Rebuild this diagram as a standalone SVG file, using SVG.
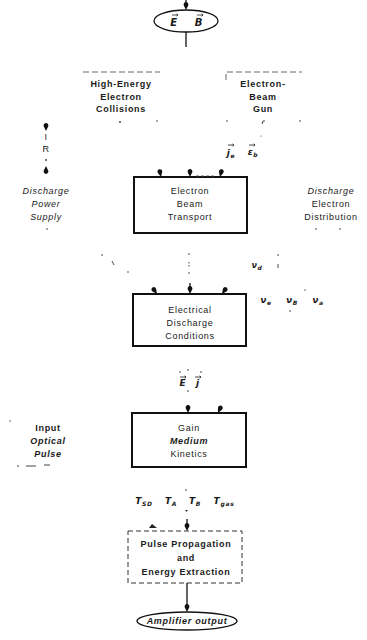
<svg xmlns="http://www.w3.org/2000/svg" width="367" height="640" viewBox="0 0 367 640">
<style>
text{font-family:"Liberation Sans","DejaVu Sans",sans-serif;font-size:9px;fill:#1a1a1a;text-anchor:middle;font-weight:bold;letter-spacing:0.7px}
.it{font-style:italic}
.nb{font-weight:normal}
.sym{font-family:"DejaVu Sans",sans-serif;font-size:9px;font-style:italic}
.sub{font-size:6px}
.box{fill:none;stroke:#111;stroke-width:2}
.dbox{fill:none;stroke:#333;stroke-width:1;stroke-dasharray:5 3}
.faint{fill:none;stroke:#555;stroke-width:0.9;stroke-dasharray:6 3}
.ln{fill:none;stroke:#111;stroke-width:1.3}
.dot{fill:#333}
.vec{fill:none;stroke:#1a1a1a;stroke-width:0.8}
</style>
<defs>
<path id="pin" d="M0,0 L-2.2,-4.6 A2.4,2.4 0 1 1 2.2,-4.6 Z" fill="#111"/>
<path id="vec" d="M-3,0 H3 M1.6,-1.2 L3,0 L1.6,1.2" fill="none" stroke="#1a1a1a" stroke-width="0.8"/>
</defs>
<rect width="367" height="640" fill="#fff"/>

<g id="fields">
<ellipse cx="186" cy="21" rx="32" ry="11" fill="none" stroke="#111" stroke-width="1.3"/>
<text class="sym" x="174" y="26" style="font-size:10px;font-weight:bold">E</text>
<use href="#vec" x="175" y="15"/>
<text class="sym" x="199" y="26" style="font-size:10px;font-weight:bold">B</text>
<use href="#vec" x="200" y="15"/>
</g>

<g id="high-energy-collisions">
<path class="faint" d="M83,72 H160"/>
<text x="121" y="87">High-Energy</text>
<text x="121" y="100">Electron</text>
<text x="121" y="112">Collisions</text>
<circle class="dot" cx="120" cy="122" r="0.9"/>
<circle class="dot" cx="157" cy="121" r="0.8"/>
</g>

<g id="electron-beam-gun">
<path class="faint" d="M226,80 V72 H302"/>
<text x="263" y="87">Electron-</text>
<text x="263" y="100">Beam</text>
<text x="263" y="112">Gun</text>
<circle class="dot" cx="227" cy="121" r="0.8"/>
<path d="M262,124 l1,-3 h2" stroke="#333" stroke-width="0.9" fill="none"/>
<circle class="dot" cx="300" cy="121" r="0.8"/>
<circle class="dot" cx="261" cy="136" r="0.6"/>
</g>

<g id="discharge-power-supply">
<text x="46" y="140" class="nb">I</text>
<text x="46" y="152" class="nb">R</text>
<text x="46" y="194" class="it nb">Discharge</text>
<text x="46" y="207" class="it nb">Power</text>
<text x="46" y="220" class="it nb">Supply</text>
<circle class="dot" cx="47" cy="229" r="0.8"/>
</g>

<g id="beam-params">
<text class="sym" x="231" y="156">j<tspan class="sub" dy="2">e</tspan></text>
<use href="#vec" x="231" y="145"/>
<text class="sym" x="253" y="155">ε<tspan class="sub" dy="2">b</tspan></text>
<use href="#vec" x="252" y="145"/>
</g>

<g id="electron-beam-transport">
<rect class="box" x="134" y="177" width="113" height="56" stroke-width="2.2"/>
<text x="190" y="194" class="nb">Electron</text>
<text x="190" y="207" class="nb">Beam</text>
<text x="190" y="220" class="nb">Transport</text>
</g>

<g id="discharge-electron-distribution">
<text x="331" y="194" class="it nb">Discharge</text>
<text x="331" y="207" class="nb">Electron</text>
<text x="331" y="220" class="nb">Distribution</text>
<circle class="dot" cx="316" cy="229" r="0.8"/>
<circle class="dot" cx="340" cy="229" r="0.8"/>
</g>

<g id="marks-mid">
<circle class="dot" cx="102" cy="255" r="0.8"/>
<path d="M112,261 l2,4" stroke="#333" stroke-width="0.9"/>
<circle class="dot" cx="128" cy="272" r="0.8"/>
<circle class="dot" cx="189" cy="254" r="0.8"/>
<path d="M189,262 v5" stroke="#333" stroke-width="0.9" stroke-dasharray="1.5 1.5"/>
<circle class="dot" cx="189" cy="273" r="0.8"/>
<text class="sym" x="257" y="268" style="font-size:8px">ν<tspan class="sub" dy="2">d</tspan></text>
<circle class="dot" cx="278" cy="255" r="0.8"/>
<path d="M278,264 v4" stroke="#333" stroke-width="0.9"/>
</g>

<g id="electrical-discharge-conditions">
<rect class="box" x="133" y="294" width="113" height="52"/>
<text x="190" y="313" class="nb">Electrical</text>
<text x="190" y="326" class="nb">Discharge</text>
<text x="190" y="339" class="nb">Conditions</text>
</g>

<g id="rates">
<text class="sym" x="266" y="303">ν<tspan class="sub" dy="2">e</tspan></text>
<text class="sym" x="292" y="303">ν<tspan class="sub" dy="2">B</tspan></text>
<text class="sym" x="318" y="303">ν<tspan class="sub" dy="2">a</tspan></text>
<circle class="dot" cx="290" cy="311" r="0.8"/>
<circle class="dot" cx="305" cy="290" r="0.7"/>
</g>

<g id="field-current">
<text class="sym" x="183" y="386">E</text>
<use href="#vec" x="183" y="377"/>
<text class="sym" x="198" y="386">j</text>
<use href="#vec" x="198" y="377"/>
<circle class="dot" cx="180" cy="372" r="0.8"/>
<circle class="dot" cx="188" cy="370" r="0.8"/>
<circle class="dot" cx="201" cy="372" r="0.8"/>
<circle class="dot" cx="188" cy="391" r="0.8"/>
</g>

<g id="gain-medium-kinetics">
<rect class="box" x="132" y="413" width="114" height="54" stroke-width="1.8"/>
<text x="189" y="431" class="nb">Gain</text>
<text x="189" y="444" class="it">Medium</text>
<text x="189" y="457" class="nb">Kinetics</text>
</g>

<g id="input-optical-pulse">
<text x="48" y="431">Input</text>
<text x="48" y="444" class="it">Optical</text>
<text x="48" y="457" class="it">Pulse</text>
<circle class="dot" cx="10" cy="421" r="0.7"/>
<path d="M17,466 h2 M26,466 h10 M44,465 h6" stroke="#444" stroke-width="1"/>
</g>

<g id="temperatures">
<text class="sym" x="144" y="504">T<tspan class="sub" dy="2">SD</tspan></text>
<text class="sym" x="171" y="504">T<tspan class="sub" dy="2">A</tspan></text>
<text class="sym" x="195" y="504">T<tspan class="sub" dy="2">B</tspan></text>
<text class="sym" x="224" y="504">T<tspan class="sub" dy="2">gas</tspan></text>
<circle class="dot" cx="186" cy="490" r="0.8"/>
<path d="M185,510 h3 l-1.5,2 z" fill="#333"/>
</g>

<g id="pulse-propagation">
<rect class="dbox" x="128" y="531" width="114" height="52"/>
<text x="186" y="547">Pulse Propagation</text>
<text x="186" y="561">and</text>
<text x="186" y="575">Energy Extraction</text>
</g>

<g id="amplifier-output">
<ellipse cx="187" cy="621" rx="50" ry="9" fill="none" stroke="#111" stroke-width="1.3"/>
<text x="187" y="624" class="it">Amplifier output</text>
</g>

<g id="connectors">
<path class="ln" d="M186,0 V6"/>
<use href="#pin" x="186" y="10"/>
<path class="ln" d="M186,32 V47"/>
<use href="#pin" x="46" y="131"/>
<circle class="dot" cx="46" cy="160" r="0.9"/>
<use href="#pin" transform="translate(46,166) rotate(180)"/>
<path class="ln" d="M46,169 V173"/>
<use href="#pin" transform="translate(161,177) rotate(-12)"/>
<use href="#pin" x="190" y="177"/>
<use href="#pin" transform="translate(220,177) rotate(14)"/>
<path d="M196,176 H214" stroke="#444" stroke-width="0.8" stroke-dasharray="3 2"/>
<use href="#pin" transform="translate(157,294) rotate(-35)"/>
<path class="ln" d="M190,283 V290"/>
<use href="#pin" x="190" y="294"/>
<use href="#pin" transform="translate(222,294) rotate(35)"/>
<path class="ln" d="M188,405 V409"/>
<use href="#pin" x="188" y="413"/>
<use href="#pin" transform="translate(218,413) rotate(25)"/>
<path d="M149,528 l3,-4 l5,4 z" fill="#222"/>
<path class="ln" d="M187,519 V526"/>
<use href="#pin" x="187" y="531"/>
<path class="ln" d="M187,583 V606"/>
<use href="#pin" x="187" y="612"/>
</g>
</svg>
